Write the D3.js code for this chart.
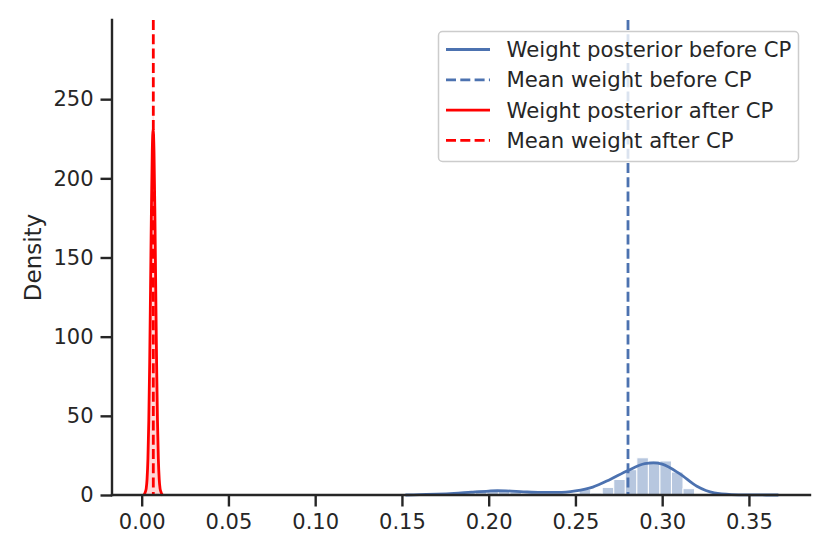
<!DOCTYPE html>
<html>
<head>
<meta charset="utf-8">
<script src="https://cdn.jsdelivr.net/npm/d3@7/dist/d3.min.js"></script>
<style>
  html, body { margin: 0; padding: 0; background: #fff; }
  svg { display: block; font-family: "DejaVu Sans", sans-serif; }
</style>
</head>
<body>
<svg id="chart" width="830" height="554"></svg>
<script>
// ---------------- DATA ----------------
const xTicks = [0.00, 0.05, 0.10, 0.15, 0.20, 0.25, 0.30, 0.35];
const yTicks = [0, 50, 100, 150, 200, 250];
const yLabel = "Density";

// Blue (before CP) histogram: bin start, bin width, densities
const blueBinStart = 0.1657;
const blueBinWidth = 0.00665;
const blueHist = [0.5, 0, 1.0, 1.5, 3.0, 2.5, 3.5, 2.0, 1.0, 0.5, 1.0, 0.5, 0.3,
                  3.5, 1.2, 4.8, 9.8, 16, 23.5, 21.5, 21.5, 14.5, 4];
// Blue KDE
const blueKdeX = [0.152, 0.160, 0.170, 0.180, 0.190, 0.200, 0.205, 0.210, 0.220,
                  0.230, 0.240, 0.250, 0.260, 0.270, 0.280, 0.290, 0.295, 0.300, 0.310,
                  0.320, 0.330, 0.340, 0.350, 0.360, 0.367];
const blueKdeY = [0, 0.2, 0.5, 1.0, 1.8, 2.5, 2.7, 2.6, 2.0,
                  1.6, 1.6, 2.6, 5.0, 9.8, 15.3, 19.8, 20.3, 19.5, 13.5,
                  5.5, 1.3, 0.3, 0.07, 0.01, 0];
const blueMean = 0.2803;

// Red (after CP) histogram: many narrow bins
const redBinStart = 0.0012;
const redBinWidth = 0.0003;
const redHist = [0.5, 1, 1, 2, 4, 7, 10, 16, 24, 34, 52, 72, 105, 130, 165, 205, 228, 285,
                 245, 220, 195, 155, 122, 96, 66, 48, 32, 22, 14, 9, 6, 3, 2, 2, 0.5, 0.5];
// Red KDE
const redKdeX = [0.0011, 0.0016, 0.0021, 0.0026, 0.0031, 0.0036, 0.0041, 0.0046, 0.0051, 0.0056,
                 0.0061, 0.0066, 0.0071, 0.0076, 0.0081, 0.0086, 0.0091, 0.0096, 0.0101, 0.0106,
                 0.0111, 0.0116, 0.0121];
const redKdeY = [0, 0.6, 2, 4, 10, 23, 47, 83, 130, 179,
                 217, 231, 217, 179, 130, 83, 47, 23, 10, 4,
                 2, 0.6, 0];
const redMean = 0.0067;

const legendLabels = ["Weight posterior before CP", "Mean weight before CP",
                      "Weight posterior after CP", "Mean weight after CP"];

// ---------------- LAYOUT ----------------
(function () {
const blue = "#4c72b0", red = "#ff0000", ink = "#262626";
const mLeft = 112, mRight = 810, mTop = 20, mBottom = 495;
const svg = d3.select("#chart");

const x = d3.scaleLinear().domain([-0.01711, 0.3852]).range([mLeft, mRight]);
const y = d3.scaleLinear().domain([0, 300]).range([mBottom, mTop]);

const plot = svg.append("g");

// Blue histogram
plot.append("g").selectAll("rect").data(blueHist).join("rect")
  .attr("x", (d, i) => x(blueBinStart + i * blueBinWidth))
  .attr("width", x(blueBinStart + blueBinWidth) - x(blueBinStart))
  .attr("y", d => y(d))
  .attr("height", d => y(0) - y(d))
  .attr("fill", blue).attr("fill-opacity", 0.4)
  .attr("stroke", "#fff").attr("stroke-width", 1);

// Red histogram
plot.append("g").selectAll("rect").data(redHist).join("rect")
  .attr("x", (d, i) => x(redBinStart + i * redBinWidth))
  .attr("width", x(redBinStart + redBinWidth) - x(redBinStart))
  .attr("y", d => y(d))
  .attr("height", d => y(0) - y(d))
  .attr("fill", red).attr("fill-opacity", 0.16);

const line = d3.line().x(d => x(d[0])).y(d => y(d[1])).curve(d3.curveMonotoneX);

plot.append("path").datum(d3.zip(blueKdeX, blueKdeY))
  .attr("d", line).attr("fill", "none").attr("stroke", blue).attr("stroke-width", 2.8);
plot.append("line")
  .attr("x1", x(blueMean)).attr("x2", x(blueMean)).attr("y1", mTop).attr("y2", mBottom)
  .attr("stroke", blue).attr("stroke-width", 2.8).attr("stroke-dasharray", "10,4.3");

plot.append("path").datum(d3.zip(redKdeX, redKdeY))
  .attr("d", line).attr("fill", "none").attr("stroke", red).attr("stroke-width", 2.8);
plot.append("line")
  .attr("x1", x(redMean)).attr("x2", x(redMean)).attr("y1", mTop).attr("y2", mBottom)
  .attr("stroke", red).attr("stroke-width", 2.8).attr("stroke-dasharray", "10,4.3");

// Axes
const xAxis = svg.append("g").attr("transform", `translate(0,${mBottom})`)
  .call(d3.axisBottom(x).tickValues(xTicks).tickFormat(d3.format(".2f")).tickSize(11.5).tickPadding(8));
const yAxis = svg.append("g").attr("transform", `translate(${mLeft},0)`)
  .call(d3.axisLeft(y).tickValues(yTicks).tickSize(11.5).tickPadding(7));
[xAxis, yAxis].forEach(g => {
  g.select(".domain").remove();
  g.selectAll(".tick line").attr("stroke", ink).attr("stroke-width", 2.4);
  g.selectAll(".tick text").attr("fill", ink).style("font-size", "21px")
   .style("font-family", "'DejaVu Sans', sans-serif");
});
svg.append("line").attr("x1", mLeft).attr("x2", mRight).attr("y1", mBottom).attr("y2", mBottom)
  .attr("stroke", ink).attr("stroke-width", 2.4).attr("stroke-linecap", "square");
svg.append("line").attr("x1", mLeft).attr("x2", mLeft).attr("y1", mTop).attr("y2", mBottom)
  .attr("stroke", ink).attr("stroke-width", 2.4).attr("stroke-linecap", "square");

svg.append("text").attr("transform", `translate(41,${(mTop + mBottom) / 2}) rotate(-90)`)
  .attr("text-anchor", "middle").attr("fill", ink).style("font-size", "23px").text(yLabel);

// Legend
const lg = svg.append("g");
lg.append("rect").attr("x", 438.5).attr("y", 31.5).attr("width", 360).attr("height", 130)
  .attr("rx", 4).attr("fill", "#fff").attr("fill-opacity", 0.8)
  .attr("stroke", "#cccccc").attr("stroke-width", 1.5);
const legendStyles = [
  {c: blue, dash: null}, {c: blue, dash: "10,4.3"},
  {c: red, dash: null}, {c: red, dash: "10,4.3"}
];
legendLabels.forEach((t, i) => {
  const cy = 49.5 + i * 30.3;
  lg.append("line").attr("x1", 446).attr("x2", 490).attr("y1", cy).attr("y2", cy)
    .attr("stroke", legendStyles[i].c).attr("stroke-width", 2.8)
    .attr("stroke-dasharray", legendStyles[i].dash);
  lg.append("text").attr("x", 506.5).attr("y", cy).attr("dy", "0.36em")
    .attr("fill", ink).style("font-size", "21.2px").text(t);
});
})();
</script>
</body>
</html>
